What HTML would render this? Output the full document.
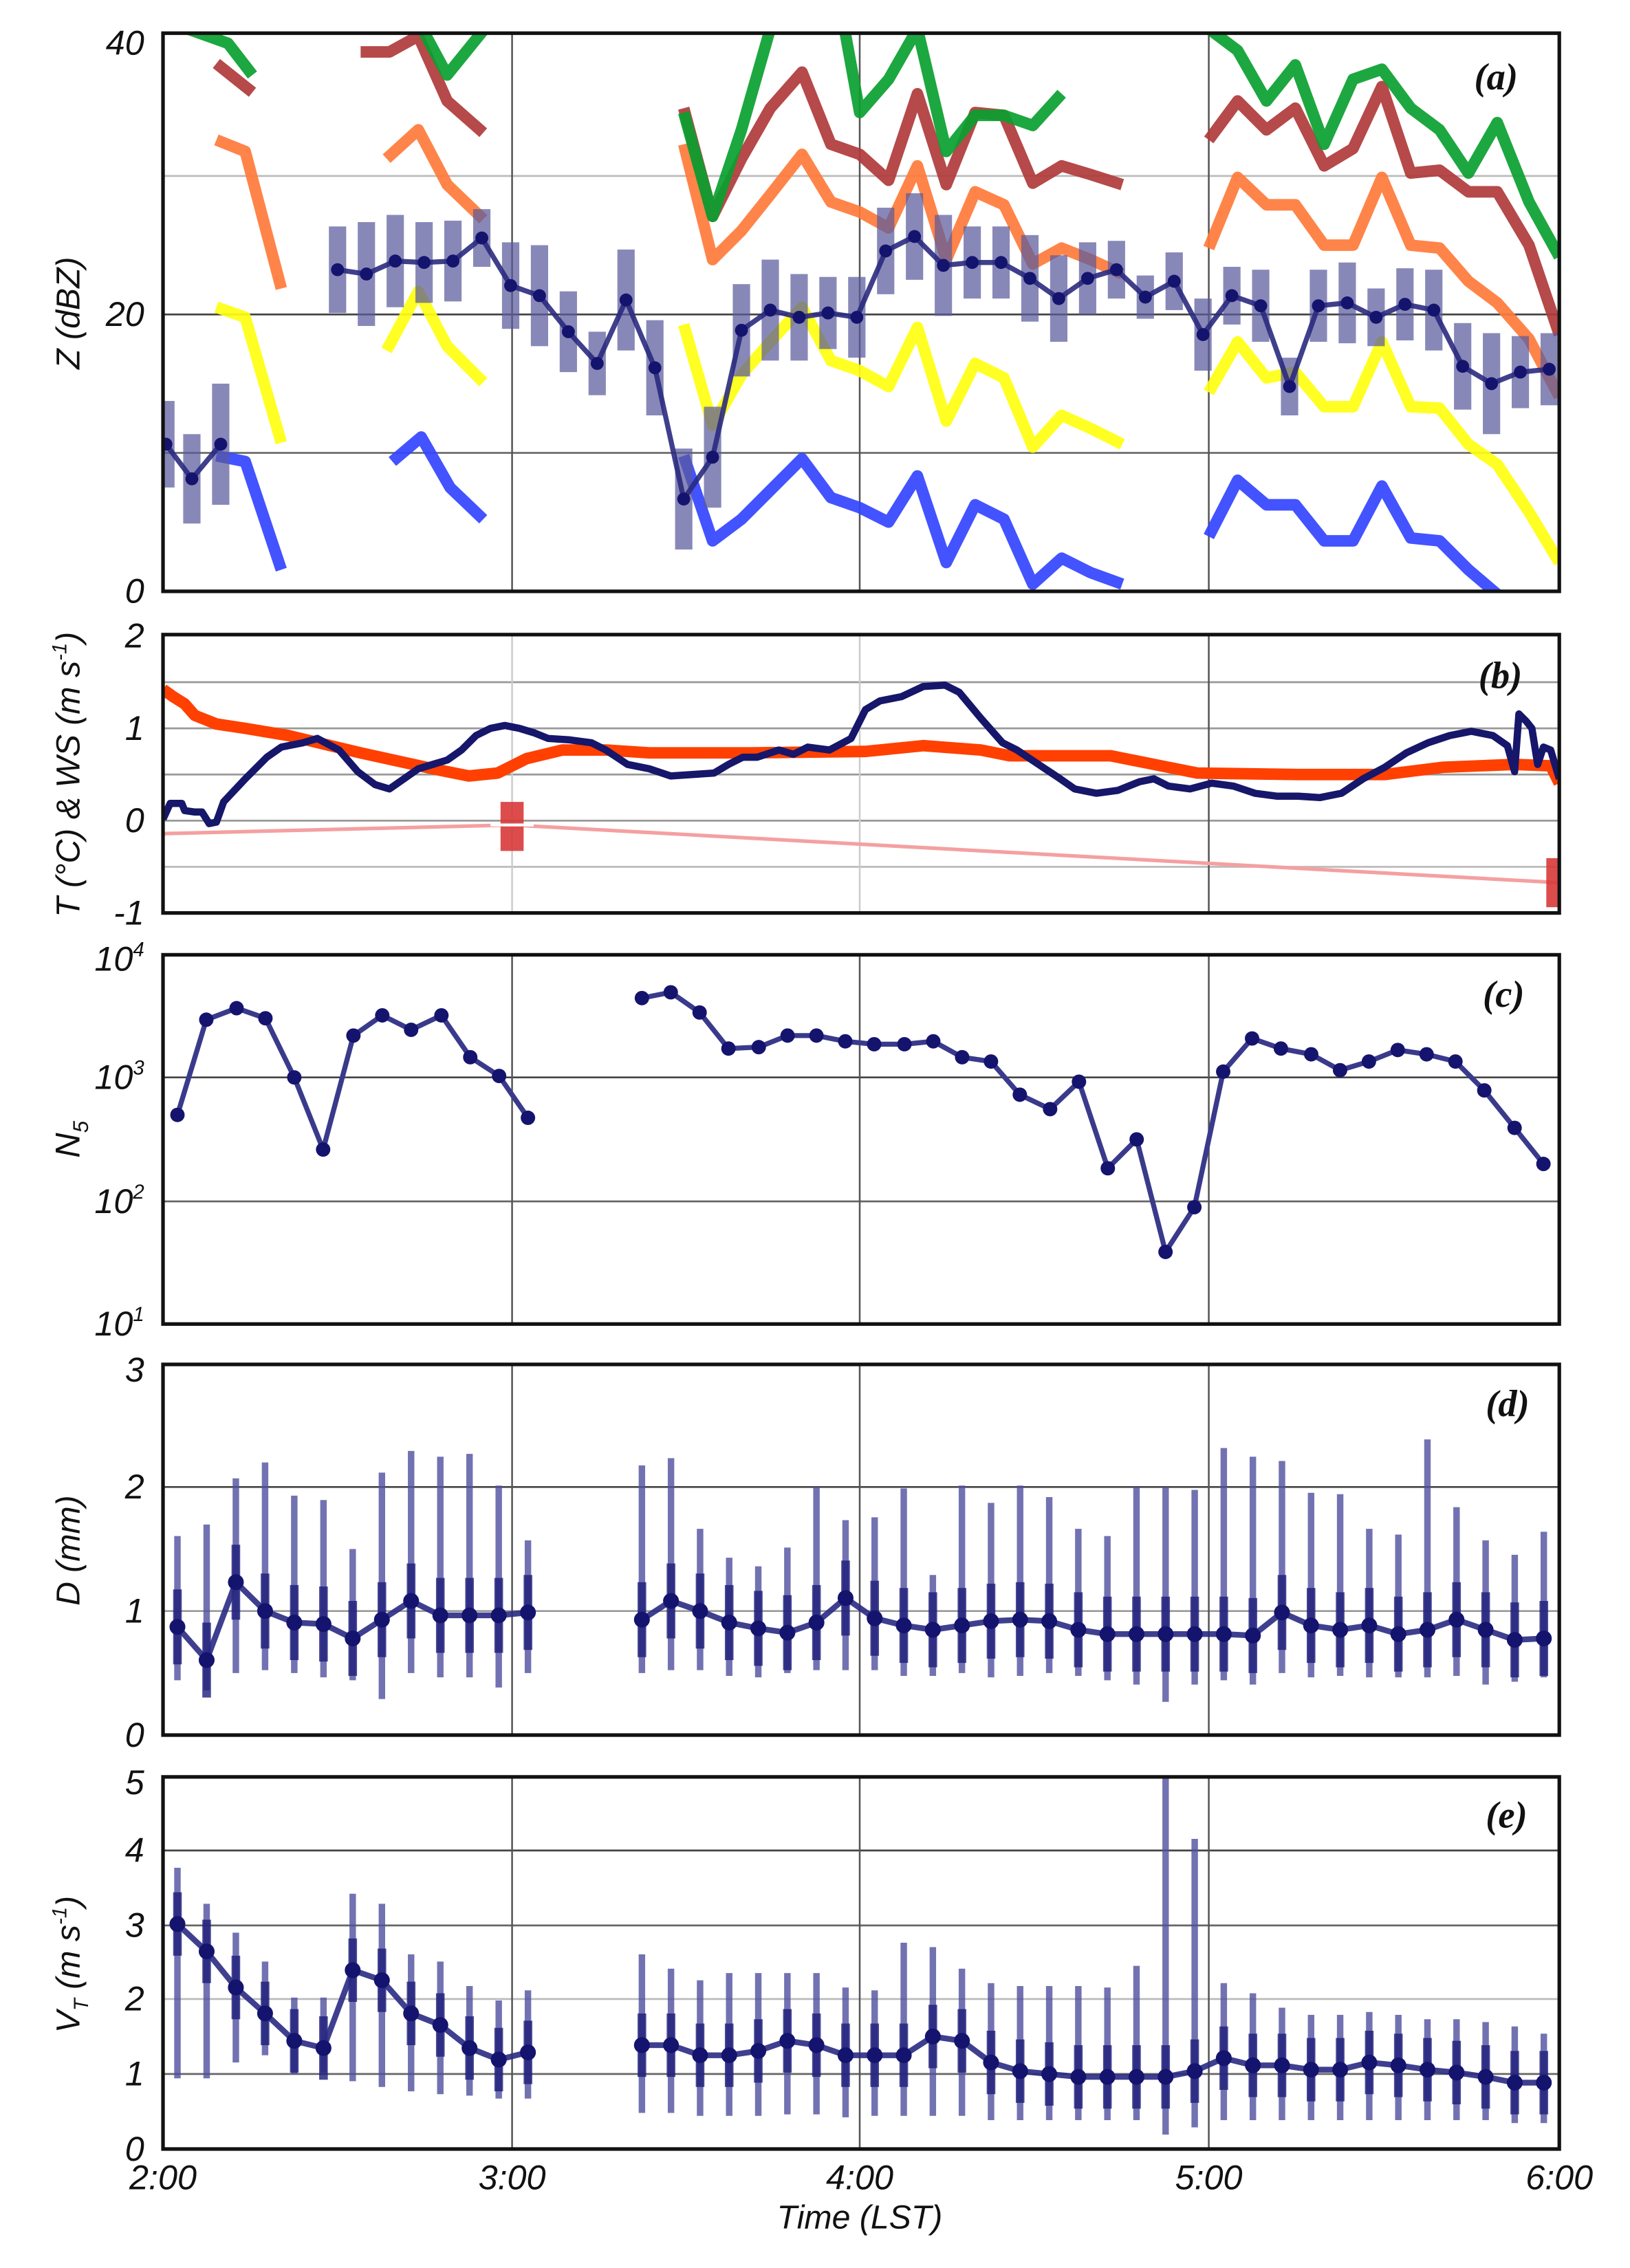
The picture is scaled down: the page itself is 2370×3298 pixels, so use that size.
<!DOCTYPE html>
<html><head><meta charset="utf-8"><style>
html,body{margin:0;padding:0;background:#fff;width:2370px;height:3298px;overflow:hidden}
svg{display:block}
text{font-family:"Liberation Sans",sans-serif;font-style:italic;fill:#111}
.lab{font-family:"Liberation Serif",serif;font-weight:bold;font-style:italic;font-size:26px}
</style></head><body>
<svg id="s" width="2370" height="3298" viewBox="0 0 1130 1572.5" xmlns="http://www.w3.org/2000/svg"></svg>
<script>
const S=document.getElementById('s');let h='';
const X0=113,X1=1081;
function pl(pts,st){return `<polyline points="${pts.map(p=>p.join(',')).join(' ')}" fill="none" stroke-linejoin="round" ${st}/>`;}
function grid(top,bot,ys,lightV){
  ys.forEach(([y,c])=>h+=`<line x1="${X0}" x2="${X1}" y1="${y}" y2="${y}" stroke="${c}" stroke-width="1.3"/>`);
  [355,596,838].forEach((x,i)=>h+=`<line x1="${x}" x2="${x}" y1="${top}" y2="${bot}" stroke="${lightV&&i<2?'#ccc':'#555'}" stroke-width="1.2"/>`);
}
function frame(top,bot){h+=`<rect x="${X0}" y="${top}" width="${X1-X0}" height="${bot-top}" fill="none" stroke="#111" stroke-width="2.5"/>`;}
function clip(id,top,bot){h+=`<clipPath id="${id}"><rect x="${X0}" y="${top}" width="${X1-X0}" height="${bot-top}"/></clipPath>`;}
function ytick(y,t){h+=`<text x="100" y="${y+8}" font-size="24" text-anchor="end">${t}</text>`;}
// ===== (a)
clip('ca',23,410);
grid(23,410,[[314,'#666'],[218,'#444'],[122,'#bbb']]);
h+='<g clip-path="url(#ca)">';
const col={g:'#0aa030',br:'#b03a3a',o:'#ff7a3a',y:'#ffff10',b:'#3344ff'};
const A={
b:[[[150,316],[170,320],[195,395]],[[272,320],[292,303],[312,338],[335,360]],[[474,316],[494,375],[514,360],[534,340],[556,318],[576,345],[596,352],[616,362],[636,330],[656,390],[676,350],[696,360],[716,405],[736,387],[756,397],[778,405]],[[838,372],[858,333],[878,350],[898,350],[918,375],[938,375],[958,337],[978,373],[998,375],[1018,395],[1038,412]]],
y:[[[150,213],[170,220],[195,307]],[[268,243],[290,202],[310,240],[335,265]],[[474,225],[494,295],[514,260],[534,237],[556,213],[576,250],[596,257],[616,268],[636,227],[656,292],[676,252],[696,262],[716,310],[736,288],[756,297],[778,308]],[[838,272],[858,237],[878,262],[898,258],[918,282],[938,282],[958,237],[978,282],[998,283],[1018,308],[1038,322],[1060,355],[1081,390]]],
o:[[[150,97],[170,105],[195,200]],[[268,110],[290,90],[310,128],[335,152]],[[474,100],[494,180],[514,160],[534,135],[556,107],[576,140],[596,147],[616,158],[636,115],[656,180],[676,133],[696,142],[716,183],[736,172],[756,180],[778,190]],[[838,172],[858,123],[878,142],[898,142],[918,170],[938,170],[958,123],[978,170],[998,172],[1018,195],[1038,210],[1060,235],[1081,275]]],
br:[[[150,44],[175,64]],[[250,36],[270,36],[290,25],[310,70],[335,92]],[[474,75],[494,150],[514,110],[534,75],[556,50],[576,100],[596,107],[616,125],[636,65],[656,128],[676,78],[696,80],[716,127],[736,115],[756,121],[778,128]],[[838,97],[858,70],[878,90],[898,75],[918,115],[938,103],[958,60],[978,120],[998,118],[1018,133],[1038,133],[1060,170],[1081,232]]],
g:[[[130,20],[158,30],[175,52]],[[290,15],[310,52],[340,15]],[[474,78],[494,150],[514,90],[534,20],[545,-10]],[[580,-10],[596,78],[616,55],[636,20],[656,105],[676,80],[696,80],[716,87],[736,65]],[[838,20],[858,35],[878,70],[898,45],[918,100],[938,55],[958,48],[978,75],[998,90],[1018,120],[1038,85],[1060,140],[1081,178]]]
};
['b','y','o','br','g'].forEach(k=>A[k].forEach(s=>h+=pl(s,`stroke="${col[k]}" stroke-width="8" opacity="0.92"`)));
const am=[[[115,308,30],[133,332,31],[153,308,42]],[[234,187,30],[254,190,36],[274,181,32],[294,182,28],[314,181,28],[334,165,20],[354,198,30],[374,205,35],[394,230,28],[414,252,22],[434,208,35],[454,255,33],[474,346,35],[494,317,35],[514,229,32],[534,215,35],[554,220,30],[574,217,25],[594,220,28],[614,174,30],[634,164,30],[654,184,35],[674,182,25],[694,182,25],[714,193,30],[734,207,30],[754,193,25],[774,187,20],[794,206,15],[814,195,20],[834,232,25],[854,205,20],[874,212,25],[894,268,20],[914,212,25],[934,210,28],[954,220,20],[974,211,25],[994,215,28],[1014,254,30],[1034,266,35],[1054,258,25],[1074,256,25]]];
am.forEach(s=>{s.forEach(p=>h+=`<rect x="${p[0]-6}" y="${p[1]-p[2]}" width="12" height="${2*p[2]}" fill="#5a5a9c" opacity="0.72"/>`);
 h+=pl(s.map(p=>[p[0],p[1]]),'stroke="#2a2a80" stroke-width="3.5" opacity="0.9"');
 s.forEach(p=>h+=`<circle cx="${p[0]}" cy="${p[1]}" r="4.5" fill="#14146e"/>`);});
h+='</g>';frame(23,410);
ytick(410,'0');ytick(218,'20');ytick(30,'40');
h+=`<text class="lab" x="1022" y="62">(a)</text>`;
h+=`<text transform="translate(55,217) rotate(-90)" font-size="23" text-anchor="middle">Z (dBZ)</text>`;
// ===== (b)
clip('cb',440,633);
grid(440,633,[[473,'#999'],[505,'#999'],[537,'#999'],[569,'#999'],[601,'#bbb']],true);
h+='<g clip-path="url(#cb)">';
h+=pl([[113,578],[355,572],[1081,612]],'stroke="#f4a0a0" stroke-width="2.5"');
h+=`<rect x="347" y="556" width="16" height="34" fill="#d83838" opacity="0.9"/><rect x="1072" y="595" width="16" height="34" fill="#d83838" opacity="0.9"/>`;
h+=`<line x1="340" x2="370" y1="572" y2="572" stroke="#fff" stroke-width="2"/>`;
h+=pl([[113,478],[120,483],[128,488],[135,496],[150,502],[170,505],[200,510],[250,522],[300,533],[325,538],[345,536],[365,526],[390,520],[420,520],[450,522],[520,522],[600,521],[640,517],[680,520],[700,524],[770,524],[800,530],[830,536],[900,537],[960,537],[1000,532],[1050,530],[1075,531],[1081,543]],'stroke="#ff4000" stroke-width="8"');
h+=pl([[113,568],[118,557],[126,557],[128,562],[135,563],[140,563],[145,571],[150,570],[155,556],[170,540],[185,525],[195,518],[210,515],[220,512],[235,520],[248,535],[260,544],[270,547],[280,540],[290,533],[300,530],[310,527],[320,520],[330,510],[340,505],[350,503],[360,505],[370,508],[380,512],[395,513],[410,515],[420,520],[435,530],[450,533],[465,538],[480,537],[495,536],[505,530],[515,525],[525,525],[540,520],[550,523],[560,518],[575,520],[590,512],[600,492],[610,486],[625,483],[640,476],[655,475],[665,480],[680,498],[695,515],[705,520],[720,530],[735,540],[745,547],[760,550],[775,548],[790,542],[800,540],[810,545],[825,547],[840,543],[855,545],[870,550],[885,552],[900,552],[915,553],[930,550],[945,540],[960,532],[975,522],[990,515],[1005,510],[1020,507],[1035,510],[1045,517],[1050,535],[1053,495],[1058,500],[1062,505],[1066,530],[1070,518],[1075,520],[1081,540]],'stroke="#16166a" stroke-width="5"');
h+='</g>';frame(440,633);
ytick(633,'-1');ytick(569,'0');ytick(505,'1');ytick(441,'2');
h+=`<text class="lab" x="1025" y="477">(b)</text>`;
h+=`<text transform="translate(55,537) rotate(-90)" font-size="23" text-anchor="middle">T (°C) &amp; WS (m s<tspan dy="-9" font-size="14">-1</tspan><tspan dy="9">)</tspan></text>`;
// ===== (c)
grid(662,918,[[747,'#444'],[833,'#666']]);
const C=[[[123,773],[143,707],[164,699],[184,706],[204,747],[224,797],[245,718],[265,704],[285,714],[306,704],[326,733],[346,746],[366,775]],[[445,692],[465,688],[485,702],[505,727],[526,726],[546,718],[566,718],[586,722],[606,724],[627,724],[647,722],[667,733],[687,736],[707,759],[728,769],[748,750],[768,810],[788,790],[808,868],[828,837],[848,743],[868,720],[888,727],[909,731],[929,742],[949,736],[969,728],[989,731],[1009,736],[1029,756],[1050,782],[1070,807]]];
C.forEach(s=>{h+=pl(s,'stroke="#3a3a8c" stroke-width="3.5"');s.forEach(p=>h+=`<circle cx="${p[0]}" cy="${p[1]}" r="5" fill="#14146e"/>`);});
frame(662,918);
[[918,1],[833,2],[747,3],[665,4]].forEach(([y,e])=>h+=`<text x="100" y="${y+8}" font-size="24" text-anchor="end">10<tspan dy="-10" font-size="14">${e}</tspan></text>`);
h+=`<text class="lab" x="1028" y="698">(c)</text>`;
h+=`<text transform="translate(55,790) rotate(-90)" font-size="24" text-anchor="middle">N<tspan dy="6" font-size="15">5</tspan></text>`;
function bars(segs,thin,thick){segs.forEach(s=>{s.forEach(p=>{h+=`<line x1="${p[0]}" x2="${p[0]}" y1="${p[2]}" y2="${p[3]}" stroke="#5050a0" stroke-width="4.5" opacity="0.8"/>`;
 h+=`<line x1="${p[0]}" x2="${p[0]}" y1="${p[1]-thick}" y2="${p[1]+thick}" stroke="#1e1e7a" stroke-width="6" opacity="0.8"/>`;});
 h+=pl(s.map(p=>[p[0],p[1]]),'stroke="#2a2a84" stroke-width="4" opacity="0.9"');
 s.forEach(p=>h+=`<circle cx="${p[0]}" cy="${p[1]}" r="5.5" fill="#14146e"/>`);});}
function xs1(i){return 123+i*20.25;} function xs2(i){return 445+i*20.17;}
function build(m1,u1,l1,m2,u2,l2){return [m1.map((m,i)=>[xs1(i),m,u1[i],l1[i]]),m2.map((m,i)=>[xs2(i),m,u2[i],l2[i]])];}
// ===== (d)
grid(946,1203,[[1031,'#444'],[1117,'#999']]);
bars(build(
[1128,1151,1097,1117,1125,1126,1136,1123,1110,1120,1120,1120,1118],
[1065,1057,1025,1014,1037,1040,1074,1021,1006,1010,1008,1030,1068],
[1165,1172,1160,1158,1160,1163,1165,1178,1160,1163,1163,1170,1160],
[1123,1110,1117,1125,1129,1132,1125,1108,1122,1127,1130,1127,1124,1123,1124,1130,1133,1133,1133,1133,1133,1134,1118,1127,1130,1127,1133,1130,1123,1130,1137,1136],
[1016,1011,1060,1080,1086,1073,1031,1054,1052,1032,1092,1030,1042,1030,1038,1060,1065,1031,1031,1033,1004,1010,1013,1035,1036,1060,1064,998,1045,1068,1078,1062],
[1160,1158,1158,1162,1163,1160,1158,1158,1158,1162,1162,1160,1163,1162,1160,1162,1165,1168,1180,1168,1165,1168,1160,1163,1162,1163,1163,1163,1162,1168,1166,1163]),28,26);
frame(946,1203);
ytick(1203,'0');ytick(1117,'1');ytick(1031,'2');ytick(950,'3');
h+=`<text class="lab" x="1030" y="982">(d)</text>`;
h+=`<text transform="translate(55,1075) rotate(-90)" font-size="23" text-anchor="middle">D (mm)</text>`;
// ===== (e)
grid(1232,1490,[[1283,'#444'],[1335,'#666'],[1386,'#bbb'],[1438,'#666']]);
bars(build(
[1334,1353,1378,1396,1415,1420,1366,1373,1396,1404,1420,1428,1423],
[1295,1320,1340,1360,1385,1385,1313,1320,1355,1360,1377,1387,1380],
[1441,1441,1430,1425,1438,1437,1443,1447,1450,1452,1453,1455,1455],
[1418,1418,1425,1425,1422,1415,1418,1425,1425,1425,1412,1415,1430,1436,1438,1440,1440,1440,1440,1436,1427,1432,1432,1435,1435,1430,1432,1435,1437,1440,1444,1444],
[1355,1365,1373,1368,1368,1368,1368,1378,1380,1347,1350,1365,1375,1377,1377,1377,1378,1363,1232,1275,1375,1382,1392,1397,1397,1395,1397,1400,1400,1402,1405,1410],
[1465,1465,1467,1467,1467,1466,1466,1468,1467,1467,1467,1467,1470,1470,1470,1470,1470,1470,1480,1475,1470,1470,1470,1470,1470,1470,1470,1470,1470,1470,1472,1472]),22,22);
frame(1232,1490);
ytick(1490,'0');ytick(1438,'1');ytick(1386,'2');ytick(1335,'3');ytick(1283,'4');ytick(1236,'5');
h+=`<text class="lab" x="1030" y="1267">(e)</text>`;
h+=`<text transform="translate(55,1362) rotate(-90)" font-size="23" text-anchor="middle">V<tspan dy="6" font-size="14">T</tspan><tspan dy="-6"> (m s</tspan><tspan dy="-9" font-size="14">-1</tspan><tspan dy="9">)</tspan></text>`;
[['2:00',113],['3:00',355],['4:00',596],['5:00',838],['6:00',1081]].forEach(([t,x])=>h+=`<text x="${x}" y="1518" font-size="24" text-anchor="middle">${t}</text>`);
h+=`<text x="596" y="1545" font-size="23" text-anchor="middle">Time (LST)</text>`;
S.innerHTML=h;
</script>
</body></html>
